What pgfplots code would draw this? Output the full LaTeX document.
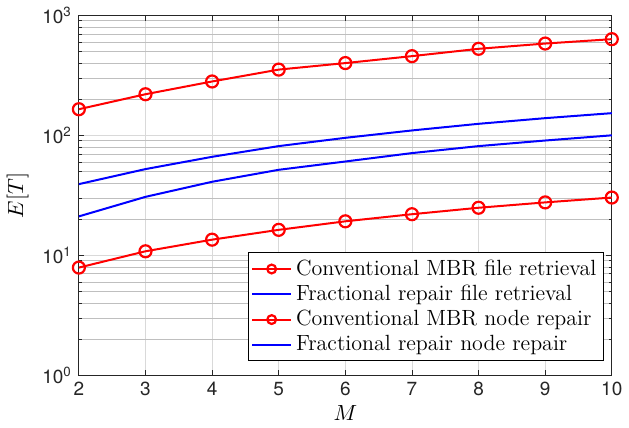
\documentclass[border=0pt]{standalone}
\usepackage{fontspec}
\usepackage{pgfplots}
\pgfplotsset{compat=1.18}
\newfontfamily\hv{TeX Gyre Heros}
\definecolor{axgray}{gray}{0.15}

\begin{document}
\begin{tikzpicture}
\begin{axis}[
  width=266.5pt, height=180pt, scale only axis,
  ymode=log,
  xmin=2, xmax=10, ymin=1, ymax=1000,
  xtick={2,3,4,5,6,7,8,9,10},
  xticklabels={2,3,4,5,6,7,8,9,10},
  ytick={1,10,100,1000},
  yticklabels={10\textsuperscript{0},10\textsuperscript{1},10\textsuperscript{2},10\textsuperscript{3}},
  tick label style={font=\hv\fontsize{9.5}{11}\selectfont, text=axgray},
  xmajorgrids, ymajorgrids, yminorgrids,
  major grid style={draw=black!15, line width=0.4pt},
  minor grid style={draw=black!25, line width=0.4pt},
  axis line style={draw=axgray, line width=0.4pt},
  tick style={draw=axgray, line width=0.4pt},
  major tick length=2.7pt, minor tick length=1.4pt,
  tick align=inside,
  xlabel={$M$}, ylabel={$E[T]$},
  label style={font=\fontsize{10.5}{12}\selectfont},
  xlabel style={yshift=2pt},
  legend style={at={(1,0)}, xshift=-4pt, yshift=7pt, anchor=south east,
    font=\fontsize{11}{13}\selectfont, draw=black, line width=0.4pt,
    row sep=-0.6pt, inner sep=1.5pt, legend cell align=left},
  legend image code/.code={%
    \draw[mark repeat=2, mark phase=2, mark size=2.2pt]
      plot coordinates {(0cm,0cm) (0.34cm,0cm) (0.68cm,0cm)};},
  legend cell align=left,
]
\addplot[red, line width=1pt, mark=o, mark size=3pt, mark options={line width=1.1pt}]
  coordinates {(2,165) (3,220) (4,281) (5,353) (6,400) (7,457) (8,526) (9,582) (10,633)};
\addlegendentry{Conventional MBR file retrieval}
\addplot[blue, line width=1pt]
  coordinates {(2,39.2) (3,52.3) (4,66.2) (5,81.3) (6,95.3) (7,109.8) (8,124.7) (9,139) (10,153)};
\addlegendentry{Fractional repair file retrieval}
\addplot[red, line width=1pt, mark=o, mark size=3pt, mark options={line width=1.1pt}]
  coordinates {(2,7.9) (3,10.8) (4,13.5) (5,16.3) (6,19.2) (7,22.0) (8,24.9) (9,27.6) (10,30.3)};
\addlegendentry{Conventional MBR node repair}
\addplot[blue, line width=1pt]
  coordinates {(2,21.1) (3,30.7) (4,41) (5,51.6) (6,60.5) (7,71.1) (8,81.3) (9,90.5) (10,100)};
\addlegendentry{Fractional repair node repair}
\end{axis}
\end{tikzpicture}
\end{document}
